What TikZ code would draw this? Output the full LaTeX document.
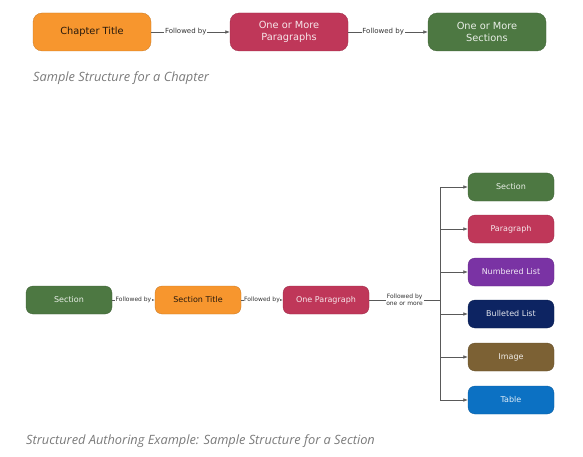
\documentclass[tikz,border=0pt]{standalone}
\usepackage{fontspec}
\setmainfont{Open Sans}
\newfontfamily\boxfont{DejaVu Sans}
\usetikzlibrary{shapes,arrows.meta,positioning}

\definecolor{orangebox}{HTML}{F7962E}
\definecolor{redbox}{HTML}{BF3759}
\definecolor{greenbox}{HTML}{4D7842}
\definecolor{purplebox}{HTML}{7A33A4}
\definecolor{navybox}{HTML}{0D2462}
\definecolor{brownbox}{HTML}{7C6134}
\definecolor{bluebox}{HTML}{0C71C3}
\definecolor{captiongray}{HTML}{7A7A7A}

\begin{document}
\begin{tikzpicture}[
    x=1pt, y=-1pt,
    box/.style={rounded corners=7pt, minimum width=86pt, minimum height=28pt, align=center, inner sep=2pt, font=\boxfont\fontsize{8}{9.5}\selectfont, text=white!88!#1, fill=#1, draw=#1!80!black, line width=0.3pt},
    bigbox/.style={box=#1, rounded corners=9pt, minimum width=118pt, minimum height=38pt, font=\boxfont\fontsize{9.8}{12}\selectfont},
    darktext/.style={text=black!80!brown},
    lbl/.style={fill=white, inner sep=0.6pt, font=\boxfont\fontsize{7}{7.5}\selectfont, text=black!80},
    smalllbl/.style={lbl, font=\boxfont\fontsize{6}{6.6}\selectfont, align=center},
    arrow/.style={-{Latex[length=4.5pt,width=3.5pt]}, black!65, line width=0.6pt},
    caption/.style={anchor=west, inner sep=0pt, text=captiongray, font=\itshape\fontsize{12.8}{15}\selectfont}
]
\useasboundingbox (0,0) rectangle (583,457);

% chapter structure
\node[bigbox=orangebox, darktext] (chaptitle) at (92,32) {Chapter Title};
\node[bigbox=redbox] (paras) at (289,32) {One or More\\Paragraphs};
\node[bigbox=greenbox] (sections) at (487,32) {One or More\\Sections};
\draw[arrow] (chaptitle) -- node[lbl, pos=0.44] {Followed by} (paras);
\draw[arrow] (paras) -- node[lbl, pos=0.44] {Followed by} (sections);
\node[caption] (capchapter) at (33,78) {Sample Structure for a Chapter};

% section structure
\node[box=greenbox] (section) at (69,300) {Section};
\node[box=orangebox, darktext] (sectitle) at (198,300) {Section Title};
\node[box=redbox] (onepara) at (326,300) {One Paragraph};
\draw[arrow] (section) -- node[smalllbl] {Followed by} (sectitle);
\draw[arrow] (sectitle) -- node[smalllbl] {Followed by} (onepara);

\coordinate (split) at (440,300);
\draw[black!65, line width=0.6pt] (onepara) -- node[smalllbl] {Followed by\\one or more} (split);

\node[box=greenbox] (r1) at (511,187) {Section};
\node[box=redbox] (r2) at (511,229) {Paragraph};
\node[box=purplebox] (r3) at (511,272) {Numbered List};
\node[box=navybox] (r4) at (511,314) {Bulleted List};
\node[box=brownbox] (r5) at (511,357) {Image};
\node[box=bluebox] (r6) at (511,400) {Table};
\foreach \n in {r1,r2,r3,r4,r5,r6}
    \draw[arrow] (split) |- (\n);

\node[caption] (capsection) at (26,441) {Structured Authoring Example: Sample Structure for a Section};
\end{tikzpicture}
\end{document}
